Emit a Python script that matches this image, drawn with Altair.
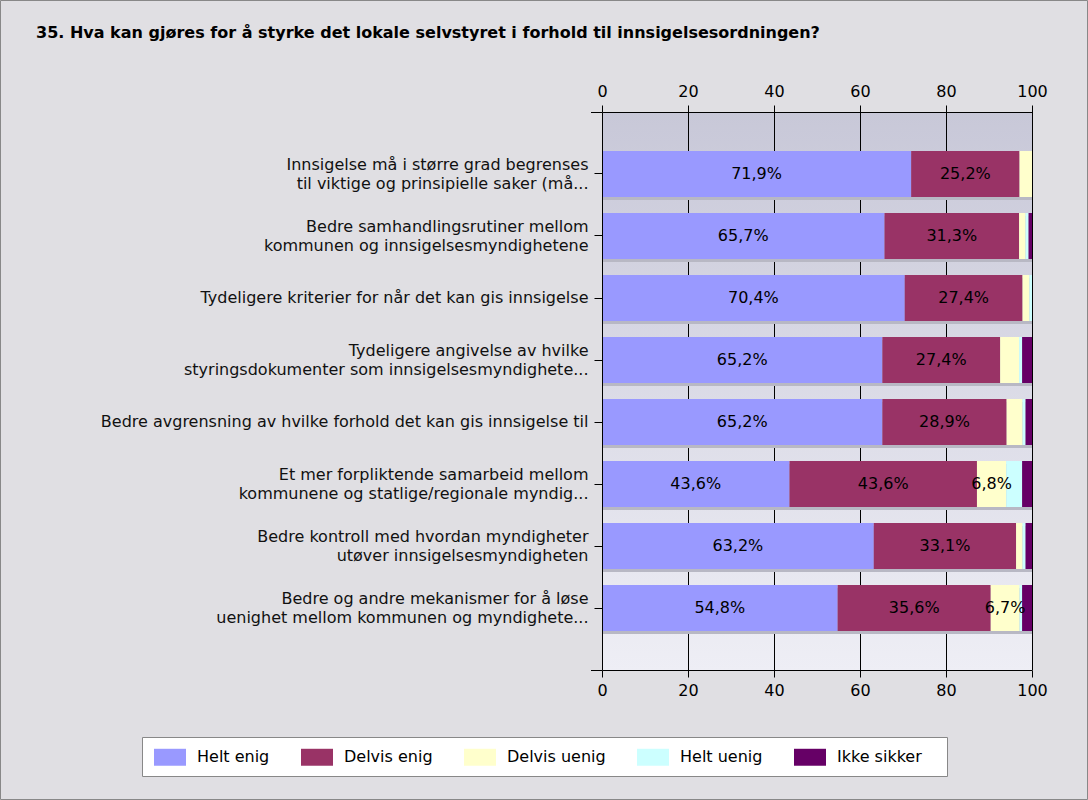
import altair as alt
import pandas as pd

title_text = "35. Hva kan gjøres for å styrke det lokale selvstyret i forhold til innsigelsesordningen?"
categories = [
    "Innsigelse må i større grad begrenses|til viktige og prinsipielle saker (må...",
    "Bedre samhandlingsrutiner mellom|kommunen og innsigelsesmyndighetene",
    "Tydeligere kriterier for når det kan gis innsigelse",
    "Tydeligere angivelse av hvilke|styringsdokumenter som innsigelsesmyndighete...",
    "Bedre avgrensning av hvilke forhold det kan gis innsigelse til",
    "Et mer forpliktende samarbeid mellom|kommunene og statlige/regionale myndig...",
    "Bedre kontroll med hvordan myndigheter|utøver innsigelsesmyndigheten",
    "Bedre og andre mekanismer for å løse|uenighet mellom kommunen og myndighete...",
]
series = ["Helt enig", "Delvis enig", "Delvis uenig", "Helt uenig", "Ikke sikker"]
colors = ["#9999ff", "#993366", "#ffffcc", "#ccffff", "#660066"]

helt_enig = [71.9, 65.7, 70.4, 65.2, 65.2, 43.6, 63.2, 54.8]
delvis_enig = [25.2, 31.3, 27.4, 27.4, 28.9, 43.6, 33.1, 35.6]
delvis_uenig = [2.9, 1.5, 1.6, 4.4, 3.7, 6.8, 1.5, 6.7]
helt_uenig = [0.0, 0.7, 0.6, 0.7, 0.7, 3.7, 0.7, 0.6]
ikke_sikker = [0.0, 0.8, 0.0, 2.3, 1.5, 2.3, 1.5, 2.3]

x_ticks = [0, 20, 40, 60, 80, 100]
grid_values = [20, 40, 60, 80, 100]

values = [helt_enig, delvis_enig, delvis_uenig, helt_uenig, ikke_sikker]
rows = []
for i, cat in enumerate(categories):
    start = 0.0
    for s, name in enumerate(series):
        v = values[s][i]
        end = start + v
        label = (f"{v:.1f}".replace(".", ",") + "%") if v >= 5 else ""
        rows.append({"cat": cat, "series": name, "order": s, "start": start,
                     "end": end, "mid": (start + end) / 2, "label": label})
        start = end
df = pd.DataFrame(rows)
df_cat = pd.DataFrame({"cat": categories, "lo": [0] * len(categories), "hi": [100] * len(categories)})
df_grid = pd.DataFrame({"v": grid_values})
df_title = pd.DataFrame({"t": [title_text]})

FONT = "DejaVu Sans"
W, H = 430, 558
xscale = alt.Scale(domain=[0, 100], nice=False)
yscale = alt.Scale(paddingInner=0.258, paddingOuter=0.629)

def xaxis(orient, pad):
    return alt.Axis(orient=orient, values=x_ticks, title=None, grid=False,
                    labelFont=FONT, labelFontSize=16, labelFontWeight="normal",
                    labelColor="#000", tickColor="#000", domainColor="#000",
                    tickSize=7, labelPadding=pad, labelFlush=False, zindex=1)

yaxis = alt.Axis(title=None, labelExpr="split(datum.value, '|')", labelFont=FONT,
                 labelFontSize=16, labelLineHeight=19, labelColor="#111",
                 labelLimit=700, tickColor="#000", domainColor="#000", tickSize=8,
                 labelPadding=6, zindex=1,
                 labelOffset={"condition": {"test": "indexof(datum.value, '|') >= 0", "value": -9},
                              "value": 0})

bg = alt.Chart(df_cat).mark_rect(
    fill={"gradient": "linear", "x1": 0, "y1": 0, "x2": 0, "y2": 1,
          "stops": [{"offset": 0, "color": "#c8c8d8"}, {"offset": 1, "color": "#eeeef5"}]}
).encode(x=alt.value(0), x2=alt.value(W), y=alt.value(0), y2=alt.value(H))

grid = alt.Chart(df_grid).mark_rule(color="#000", strokeWidth=1, xOffset=0.5).encode(
    x=alt.X("v:Q", scale=xscale, axis=xaxis("bottom", 5))
)

shadow = alt.Chart(df_cat).mark_bar(color="#b8b8c4", yOffset=3, xOffset=1).encode(
    x=alt.X("lo:Q", scale=xscale, axis=xaxis("top", 6)),
    x2="hi:Q",
    y=alt.Y("cat:N", sort=categories, scale=yscale, axis=yaxis),
)

legend_box = alt.Chart(df_title).mark_rect(fill="#ffffff", stroke="#888888", strokeWidth=1).encode(
    x=alt.value(-459.5), x2=alt.value(345.5), y=alt.value(625.5), y2=alt.value(664.5))

bars = alt.Chart(df).mark_bar().encode(
    x=alt.X("start:Q", scale=xscale, axis=None),
    x2="end:Q",
    y=alt.Y("cat:N", sort=categories, scale=yscale, axis=yaxis),
    color=alt.Color("series:N", scale=alt.Scale(domain=series, range=colors),
                    sort=series,
                    legend=alt.Legend(title=None, orient="none", legendX=-448, legendY=629,
                                      direction="horizontal", padding=0,
                                      symbolType="M-1,-0.53H1V0.53H-1Z", symbolSize=1024,
                                      symbolStrokeWidth=0, symbolOpacity=1,
                                      labelFont=FONT, labelFontSize=16, labelColor="#000",
                                      columnPadding=31, labelOffset=11)),
    order=alt.Order("order:Q"),
)

text = alt.Chart(df).mark_text(font=FONT, fontSize=16, color="#000").encode(
    x=alt.X("mid:Q", scale=xscale, axis=None),
    y=alt.Y("cat:N", sort=categories, scale=yscale, axis=yaxis),
    text="label:N",
)

end_top = alt.Chart(df_grid).mark_rule(color="#000").encode(
    x=alt.value(-11), x2=alt.value(0), y=alt.value(0.5))
end_bot = alt.Chart(df_grid).mark_rule(color="#000").encode(
    x=alt.value(-11), x2=alt.value(0), y=alt.value(H + 0.5))

border = alt.Chart(df_title).mark_rect(fill=None, stroke="#888888", strokeWidth=1).encode(
    x=alt.value(-601.5), x2=alt.value(W + 55.5), y=alt.value(-111.5), y2=alt.value(H + 129.5))

title = alt.Chart(df_title).mark_text(font=FONT, fontSize=16, fontWeight="bold", color="#000",
                                      align="left", baseline="middle").encode(
    x=alt.value(-566), y=alt.value(-79), text="t:N")

chart = alt.layer(bg, grid, shadow, bars, text, end_top, end_bot, legend_box, border, title).resolve_axis(
    x="independent"
).properties(
    width=W, height=H,
    padding={"left": 602, "top": 112, "right": 56, "bottom": 130},
    autosize="none",
    background="#e0dfe3",
).configure_view(stroke=None)

chart.save("out.html", embed_options={"renderer": "svg", "actions": False})
